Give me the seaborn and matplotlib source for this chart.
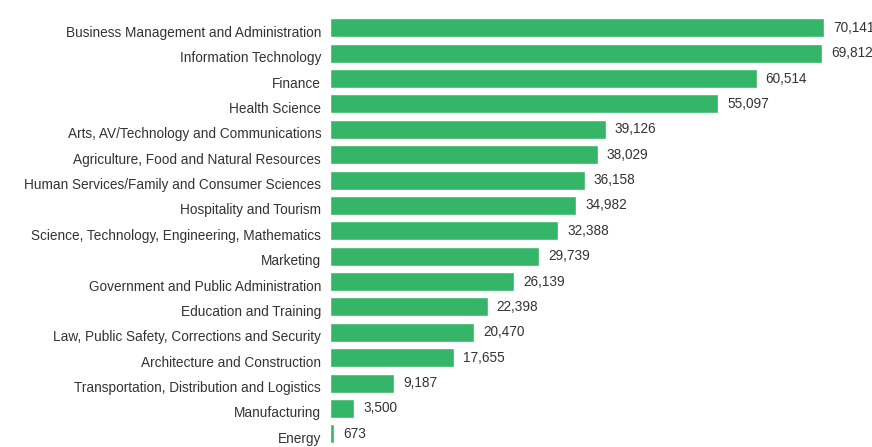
import pandas as pd
import seaborn as sns
import matplotlib.pyplot as plt
from matplotlib.transforms import ScaledTranslation

# Career cluster counts
Clusters = [
    "Business Management and Administration",
    "Information Technology",
    "Finance",
    "Health Science",
    "Arts, AV/Technology and Communications",
    "Agriculture, Food and Natural Resources",
    "Human Services/Family and Consumer Sciences",
    "Hospitality and Tourism",
    "Science, Technology, Engineering, Mathematics",
    "Marketing",
    "Government and Public Administration",
    "Education and Training",
    "Law, Public Safety, Corrections and Security",
    "Architecture and Construction",
    "Transportation, Distribution and Logistics",
    "Manufacturing",
    "Energy",
]
Counts = [70141, 69812, 60514, 55097, 39126, 38029, 36158, 34982, 32388,
          29739, 26139, 22398, 20470, 17655, 9187, 3500, 673]


def main():
    Df = pd.DataFrame({"Cluster": Clusters, "Count": Counts})

    sns.set_style("white")
    plt.rcParams["font.family"] = ["Liberation Sans", "DejaVu Sans"]

    fig = plt.figure(figsize=(8.72, 4.47), dpi=100)
    # axes left edge at the bar baseline (x=329px), running off the right side
    ax = fig.add_axes([329.5 / 872, 1 - 446.5 / 447, (872 - 329.5) / 872, 431.4 / 447])

    sns.barplot(Df, x="Count", y="Cluster", color="#35b567", saturation=1,
                width=0.75, ax=ax, orient="h")

    ax.set_xlim(0, 542.5 / 0.007057)
    ax.set_ylim(16.5, -0.5)
    ax.set_xlabel("")
    ax.set_ylabel("")
    ax.set_xticks([])
    ax.tick_params(axis="y", length=0, pad=6, labelsize=9.8, labelcolor="#333333")
    for s in ax.spines.values():
        s.set_visible(False)

    # category labels sit a little below the bar centres in the reference
    shift = ScaledTranslation(0, -0.035, fig.dpi_scale_trans)
    for lbl in ax.get_yticklabels():
        lbl.set_transform(lbl.get_transform() + shift)

    texts = ax.bar_label(ax.containers[0], labels=[f"{v:,}" for v in Counts],
                         padding=6.5, fontsize=9.8, color="#333333")
    shift2 = ScaledTranslation(0, -0.01, fig.dpi_scale_trans)
    for t in texts:
        t.set_transform(t.get_transform() + shift2)

    fig.savefig("out.png", dpi=100)
    plt.close()


if __name__ == "__main__":
    main()
